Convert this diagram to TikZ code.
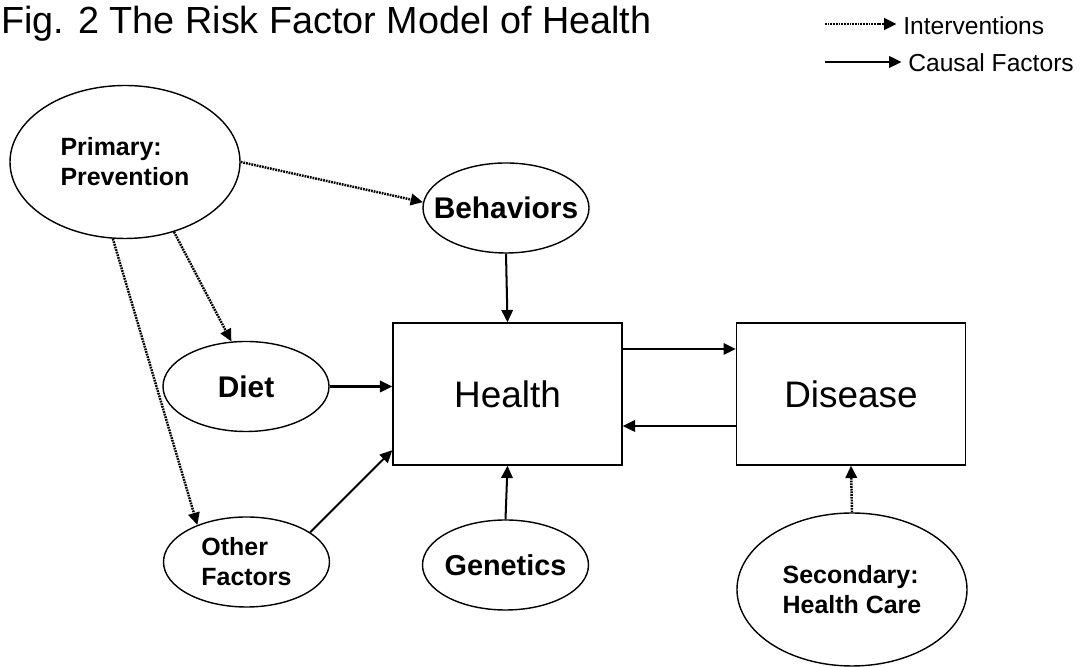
\documentclass[tikz,border=0pt]{standalone}
\usepackage{fontspec}
\setmainfont{Liberation Sans}
\usetikzlibrary{shapes.geometric,arrows.meta}

\begin{document}
\begin{tikzpicture}[
  oval/.style={draw,ellipse,line width=0.8pt,inner sep=0pt,inner xsep=-0.3cm,align=left},
  bigoval/.style={oval,minimum width=4.6cm,minimum height=3.06cm,font=\bfseries\fontsize{14.2}{17}\selectfont},
  smalloval/.style={oval,minimum width=3.32cm,minimum height=1.8cm},
  box/.style={draw,rectangle,line width=0.8pt,minimum width=4.58cm,minimum height=2.84cm,font=\fontsize{21}{25}\selectfont},
  cause/.style={-{Triangle[length=7pt,width=6.5pt]},line width=1.15pt},
  interv/.style={-{Triangle[length=7pt,width=6.5pt]},line width=1.4pt,dash pattern=on 1pt off 0.55pt}
]

  \useasboundingbox (0,0) rectangle (21.7,13.34);

  % title
  \node[anchor=base west,inner sep=0pt,font=\fontsize{21.5}{25}\selectfont] (title) at (0.02,12.66)
    {Fig. 2 The Risk Factor Model of Health};

  % legend
  \node[anchor=west,inner sep=0.13cm,font=\fontsize{14}{17}\selectfont] (intv) at (17.93,12.82) {Interventions};
  \node[anchor=west,inner sep=0.13cm,font=\fontsize{14}{17}\selectfont] (caus) at (18.03,12.08) {Causal Factors};
  \coordinate (lgi) at (16.5,12.86);
  \coordinate (lgc) at (16.5,12.1);
  \draw[interv] (lgi) -- (lgi -| intv.west);
  \draw[cause] (lgc) -- (lgc -| caus.west);

  % boxes
  \node[box] (health) at (10.15,5.46) {Health};
  \node[box] (disease) at (17.02,5.46) {Disease};

  % ovals
  \node[bigoval] (prev) at (2.5,10.1) {Primary:\\Prevention};
  \node[smalloval,font=\bfseries\fontsize{17}{20}\selectfont] (beh) at (10.12,9.18) {Behaviors};
  \node[smalloval,font=\bfseries\fontsize{17}{20}\selectfont] (diet) at (4.92,5.61) {Diet};
  \node[smalloval,font=\bfseries\fontsize{14.2}{17}\selectfont] (other) at (4.93,2.1) {Other\\Factors};
  \node[smalloval,font=\bfseries\fontsize{16.4}{19}\selectfont] (gen) at (10.11,2.04) {Genetics};
  \node[bigoval] (sec) at (17.04,1.55) {Secondary:\\Health Care};

  % interventions
  \draw[interv] (prev.east) -- (beh.176);
  \draw[interv] (prev.-55) -- (diet.108);
  \draw[interv] (prev.-99) -- (other.143);
  \draw[interv] (sec.north) -- (disease.south);

  % causal factors
  \draw[cause] (beh.south) -- (health.north);
  \draw[cause] (diet.east) -- (diet.east -| health.west);
  \draw[cause] (other.25) -- (health.206);
  \draw[cause] (gen.north) -- (health.south);
  \draw[cause] ([yshift=0.9cm]health.east) -- ([yshift=0.9cm]disease.west);
  \draw[cause] ([yshift=-0.64cm]disease.west) -- ([yshift=-0.64cm]health.east);

\end{tikzpicture}
\end{document}
